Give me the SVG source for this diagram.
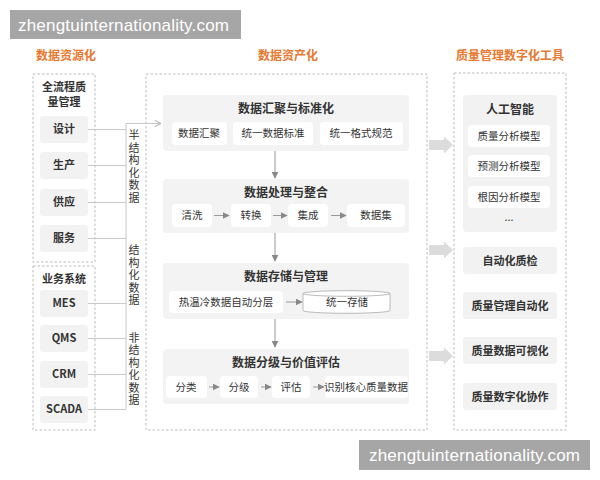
<svg xmlns="http://www.w3.org/2000/svg" width="600" height="480" viewBox="0 0 600 480">
<defs>
<style>
text{font-family:"Noto Sans CJK SC","Liberation Sans",sans-serif;fill:#333;text-anchor:middle}
.hd{font-size:12px;font-weight:bold;fill:#e8782f}
.dash{fill:none;stroke:#bbb;stroke-width:1;stroke-dasharray:2.5,2}
.node{fill:#f2f2f2}
.panel{fill:#f3f3f3}
.sub{fill:#fff}
.nt{font-size:11px;font-weight:bold}
.pt{font-size:12px;font-weight:bold}
.st{font-size:10.5px}
.vt{font-size:11px;writing-mode:vertical-rl;text-anchor:start;letter-spacing:1.5px}
.lk{stroke:#c8c8c8;stroke-width:1;fill:none}
.ar{stroke:#999;stroke-width:1;fill:none;marker-end:url(#tri)}
.big{fill:#dcdcdc}
.wm{fill:#a6a6a6}
.wt{font-family:"Liberation Sans",Arial,sans-serif;font-size:17px;fill:#fff;text-anchor:start}
</style>
<marker id="tri" viewBox="0 0 10 10" refX="9" refY="5" markerWidth="7" markerHeight="7" markerUnits="userSpaceOnUse" orient="auto">
<path d="M0,0 L10,5 L0,10 z" fill="#888"/>
</marker>
<marker id="chev" viewBox="0 0 10 10" refX="9" refY="5" markerWidth="8" markerHeight="8" markerUnits="userSpaceOnUse" orient="auto">
<path d="M1,1 L9,5 L1,9" fill="none" stroke="#aaa" stroke-width="1.2"/>
</marker>
</defs>
<rect width="600" height="480" fill="#fff"/>

<!-- column headers -->
<text class="hd" x="66" y="60">数据资源化</text>
<text class="hd" x="288" y="60">数据资产化</text>
<text class="hd" x="510" y="60">质量管理数字化工具</text>

<!-- left column -->
<g id="group-quality">
<rect class="dash" x="33" y="74" width="62" height="188"/>
<text class="nt"><tspan x="64" y="91">全流程质</tspan><tspan x="64" y="105.5">量管理</tspan></text>
</g>
<g id="node-design"><rect class="node" x="40" y="116" width="48" height="27" rx="3"/><text class="nt" x="64" y="133">设计</text></g>
<g id="node-production"><rect class="node" x="40" y="152" width="48" height="27" rx="3"/><text class="nt" x="64" y="169">生产</text></g>
<g id="node-supply"><rect class="node" x="40" y="189" width="48" height="27" rx="3"/><text class="nt" x="64" y="206">供应</text></g>
<g id="node-service"><rect class="node" x="40" y="225" width="48" height="27" rx="3"/><text class="nt" x="64" y="242">服务</text></g>

<g id="group-business">
<rect class="dash" x="33" y="266" width="62" height="164"/>
<text class="nt" x="64" y="283">业务系统</text>
</g>
<g id="node-mes"><rect class="node" x="40" y="290" width="48" height="27" rx="3"/><text class="nt" x="64" y="307">MES</text></g>
<g id="node-qms"><rect class="node" x="40" y="325" width="48" height="27" rx="3"/><text class="nt" x="64" y="342">QMS</text></g>
<g id="node-crm"><rect class="node" x="40" y="361" width="48" height="27" rx="3"/><text class="nt" x="64" y="378">CRM</text></g>
<g id="node-scada"><rect class="node" x="40" y="396" width="48" height="27" rx="3"/><text class="nt" x="64" y="413">SCADA</text></g>

<!-- middle column -->
<g id="group-asset"><rect class="dash" x="146" y="74" width="281" height="356"/></g>

<g id="sec-aggregate">
<rect class="panel" x="163" y="95" width="246" height="56" rx="4"/>
<text class="pt" x="286" y="113">数据汇聚与标准化</text>
<rect class="sub" x="172" y="122" width="55" height="23" rx="4"/><text class="st" x="199" y="137">数据汇聚</text>
<rect class="sub" x="233" y="122" width="80" height="23" rx="4"/><text class="st" x="273" y="137">统一数据标准</text>
<rect class="sub" x="320" y="122" width="83" height="23" rx="4"/><text class="st" x="361" y="137">统一格式规范</text>
</g>

<g id="sec-process">
<rect class="panel" x="163" y="179" width="246" height="54" rx="4"/>
<text class="pt" x="286" y="197">数据处理与整合</text>
<rect class="sub" x="172" y="204" width="40" height="23" rx="4"/><text class="st" x="192" y="219">清洗</text>
<rect class="sub" x="231" y="204" width="40" height="23" rx="4"/><text class="st" x="251" y="219">转换</text>
<rect class="sub" x="288" y="204" width="40" height="23" rx="4"/><text class="st" x="308" y="219">集成</text>
<rect class="sub" x="347" y="204" width="58" height="23" rx="4"/><text class="st" x="376" y="219">数据集</text>
</g>

<g id="sec-storage">
<rect class="panel" x="163" y="263" width="246" height="56" rx="4"/>
<text class="pt" x="286" y="281">数据存储与管理</text>
<rect class="sub" x="169" y="291" width="114" height="22" rx="4"/><text class="st" x="226" y="306">热温冷数据自动分层</text>
<path d="M303,293.5 L303,310.5 A43.5,2.8 0 0 0 390,310.5 L390,293.5 A43.5,2.8 0 0 0 303,293.5 A43.5,2.8 0 0 0 390,293.5" fill="#fff" stroke="#aaa" stroke-width="0.8"/>
<text class="st" x="347" y="306">统一存储</text>
</g>

<g id="sec-grade">
<rect class="panel" x="163" y="349" width="246" height="55" rx="4"/>
<text class="pt" x="286" y="367">数据分级与价值评估</text>
<rect class="sub" x="166" y="376" width="41" height="22" rx="4"/><text class="st" x="186" y="391">分类</text>
<rect class="sub" x="220" y="376" width="38" height="22" rx="4"/><text class="st" x="239" y="391">分级</text>
<rect class="sub" x="272" y="376" width="38" height="22" rx="4"/><text class="st" x="291" y="391">评估</text>
<rect class="sub" x="325" y="376" width="83" height="22" rx="4"/><text class="st" x="366" y="391">识别核心质量数据</text>
</g>

<!-- right column -->
<g id="group-tools"><rect class="dash" x="454" y="73" width="112" height="357"/></g>
<g id="node-ai">
<rect class="node" x="463" y="95" width="94" height="137" rx="4"/>
<text class="pt" x="510" y="114">人工智能</text>
<rect class="sub" x="468" y="125" width="82" height="22" rx="4"/><text class="st" x="509" y="140">质量分析模型</text>
<rect class="sub" x="468" y="155" width="82" height="22" rx="4"/><text class="st" x="509" y="170">预测分析模型</text>
<rect class="sub" x="468" y="186" width="82" height="22" rx="4"/><text class="st" x="509" y="201">根因分析模型</text>
<text class="st" x="509" y="221">...</text>
</g>
<g id="node-autoqc"><rect class="node" x="463" y="247" width="94" height="27" rx="3"/><text class="nt" x="510" y="265">自动化质检</text></g>
<g id="node-qmauto"><rect class="node" x="463" y="292" width="94" height="27" rx="3"/><text class="nt" x="510" y="310">质量管理自动化</text></g>
<g id="node-qviz"><rect class="node" x="463" y="337" width="94" height="27" rx="3"/><text class="nt" x="510" y="355">质量数据可视化</text></g>
<g id="node-qcollab"><rect class="node" x="463" y="383" width="94" height="27" rx="3"/><text class="nt" x="510" y="401">质量数字化协作</text></g>

<!-- connectors -->
<g id="connectors">
<path class="lk" d="M88,129.5 H126 M88,165.5 H126 M88,202.5 H126 M88,238.5 H126 M88,303.5 H126 M88,338.5 H126 M88,374.5 H126 M88,409.5 H126"/>
<path class="lk" d="M126,409.5 V123.5 H161" marker-end="url(#chev)"/>
<text class="vt" x="134" y="129.5">半结构化数据</text>
<text class="vt" x="134" y="244.5">结构化数据</text>
<text class="vt" x="134" y="332">非结构化数据</text>

<path class="ar" d="M275,151 V178"/>
<path class="ar" d="M275,233 V261"/>
<path class="ar" d="M275,319 V347"/>

<path class="ar" d="M214,215.5 H229"/>
<path class="ar" d="M273,215.5 H287"/>
<path class="ar" d="M331,215.5 H346"/>
<path class="ar" d="M286,302 H302"/>
<path class="ar" d="M209,387 H219"/>
<path class="ar" d="M261,387 H271"/>
<path class="ar" d="M313,387 H324"/>

<polygon class="big" points="429,140 444,140 444,136.5 453,145 444,153.5 444,150 429,150"/>
<polygon class="big" points="429,245 444,245 444,241.5 453,250 444,258.5 444,255 429,255"/>
<polygon class="big" points="429,351 444,351 444,347.5 453,356 444,364.5 444,361 429,361"/>
</g>

<!-- watermarks -->
<rect class="wm" x="10" y="10" width="231" height="29"/>
<text class="wt" x="18" y="31" textLength="211">zhengtuinternationality.com</text>
<rect class="wm" x="359" y="440" width="231" height="30"/>
<text class="wt" x="369" y="461" textLength="211">zhengtuinternationality.com</text>
</svg>
